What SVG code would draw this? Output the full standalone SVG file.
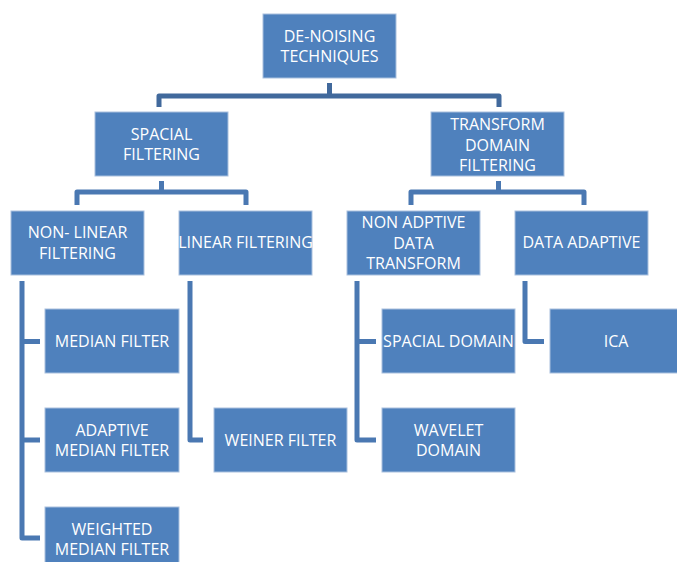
<svg xmlns="http://www.w3.org/2000/svg" width="677" height="562" viewBox="0 0 677 562">
<style>
.box{fill:#4f81bd;stroke:#a9c0de;stroke-width:1}
.t{fill:#ffffff;font-family:"Open Sans","Liberation Sans",sans-serif;font-size:16px;text-anchor:middle}
.c1{fill:none;stroke:#41699c;stroke-width:5;stroke-linejoin:round}
.c2{fill:none;stroke:#4a78b2;stroke-width:5;stroke-linejoin:round}
</style>
<rect width="677" height="562" fill="#ffffff"/>
<g id="connectors">
<path class="c1" d="M329.5,83 V96 M159,107 V96 H499 V107"/>
<path class="c2" d="M161.5,181 V192 M77,205 V192 H246 V205"/>
<path class="c2" d="M498.5,181 V192 M411,205 V192 H584 V205"/>
<path class="c2" d="M22,281 V538 H40 M22,341.5 H40 M22,440 H40"/>
<path class="c2" d="M190,281 V440 H203"/>
<path class="c2" d="M357,281 V440 H376 M357,341.5 H376"/>
<path class="c2" d="M525,281 V341.5 H544"/>
</g>
<g id="n-root"><rect class="box" x="263" y="14" width="133" height="64"/><text class="t" x="329.5" y="41.5">DE-NOISING</text><text class="t" x="329.5" y="62">TECHNIQUES</text></g>
<g id="n-spacial"><rect class="box" x="95" y="112" width="133" height="64"/><text class="t" x="161.5" y="139.5">SPACIAL</text><text class="t" x="161.5" y="160">FILTERING</text></g>
<g id="n-transform"><rect class="box" x="431" y="112" width="133" height="64"/><text class="t" x="497.5" y="130">TRANSFORM</text><text class="t" x="497.5" y="150.5">DOMAIN</text><text class="t" x="497.5" y="171">FILTERING</text></g>
<g id="n-nonlinear"><rect class="box" x="11" y="211" width="133" height="64"/><text class="t" x="77.5" y="238">NON- LINEAR</text><text class="t" x="77.5" y="258.5">FILTERING</text></g>
<g id="n-linear"><rect class="box" x="179" y="211" width="133" height="64"/><text class="t" x="245.5" y="248">LINEAR FILTERING</text></g>
<g id="n-nonadaptive"><rect class="box" x="347" y="211" width="133" height="64"/><text class="t" x="413.5" y="228.3">NON ADPTIVE</text><text class="t" x="413.5" y="248.8">DATA</text><text class="t" x="413.5" y="269.3">TRANSFORM</text></g>
<g id="n-dataadaptive"><rect class="box" x="515" y="211" width="133" height="64"/><text class="t" x="581.5" y="248">DATA ADAPTIVE</text></g>
<g id="n-median"><rect class="box" x="45" y="309" width="134" height="64"/><text class="t" x="112" y="347">MEDIAN FILTER</text></g>
<g id="n-adaptivemedian"><rect class="box" x="45" y="408" width="134" height="64"/><text class="t" x="112" y="435.5">ADAPTIVE</text><text class="t" x="112" y="456">MEDIAN FILTER</text></g>
<g id="n-weighted"><rect class="box" x="45" y="507" width="134" height="64"/><text class="t" x="112" y="534.5">WEIGHTED</text><text class="t" x="112" y="555">MEDIAN FILTER</text></g>
<g id="n-weiner"><rect class="box" x="214" y="408" width="133" height="64"/><text class="t" x="280.5" y="446">WEINER FILTER</text></g>
<g id="n-spacialdomain"><rect class="box" x="382" y="309" width="133" height="64"/><text class="t" x="448.5" y="347">SPACIAL DOMAIN</text></g>
<g id="n-wavelet"><rect class="box" x="382" y="408" width="133" height="64"/><text class="t" x="448.5" y="435.5">WAVELET</text><text class="t" x="448.5" y="456">DOMAIN</text></g>
<g id="n-ica"><rect class="box" x="550" y="309" width="134" height="64"/><text class="t" x="616" y="347">ICA</text></g>
</svg>
